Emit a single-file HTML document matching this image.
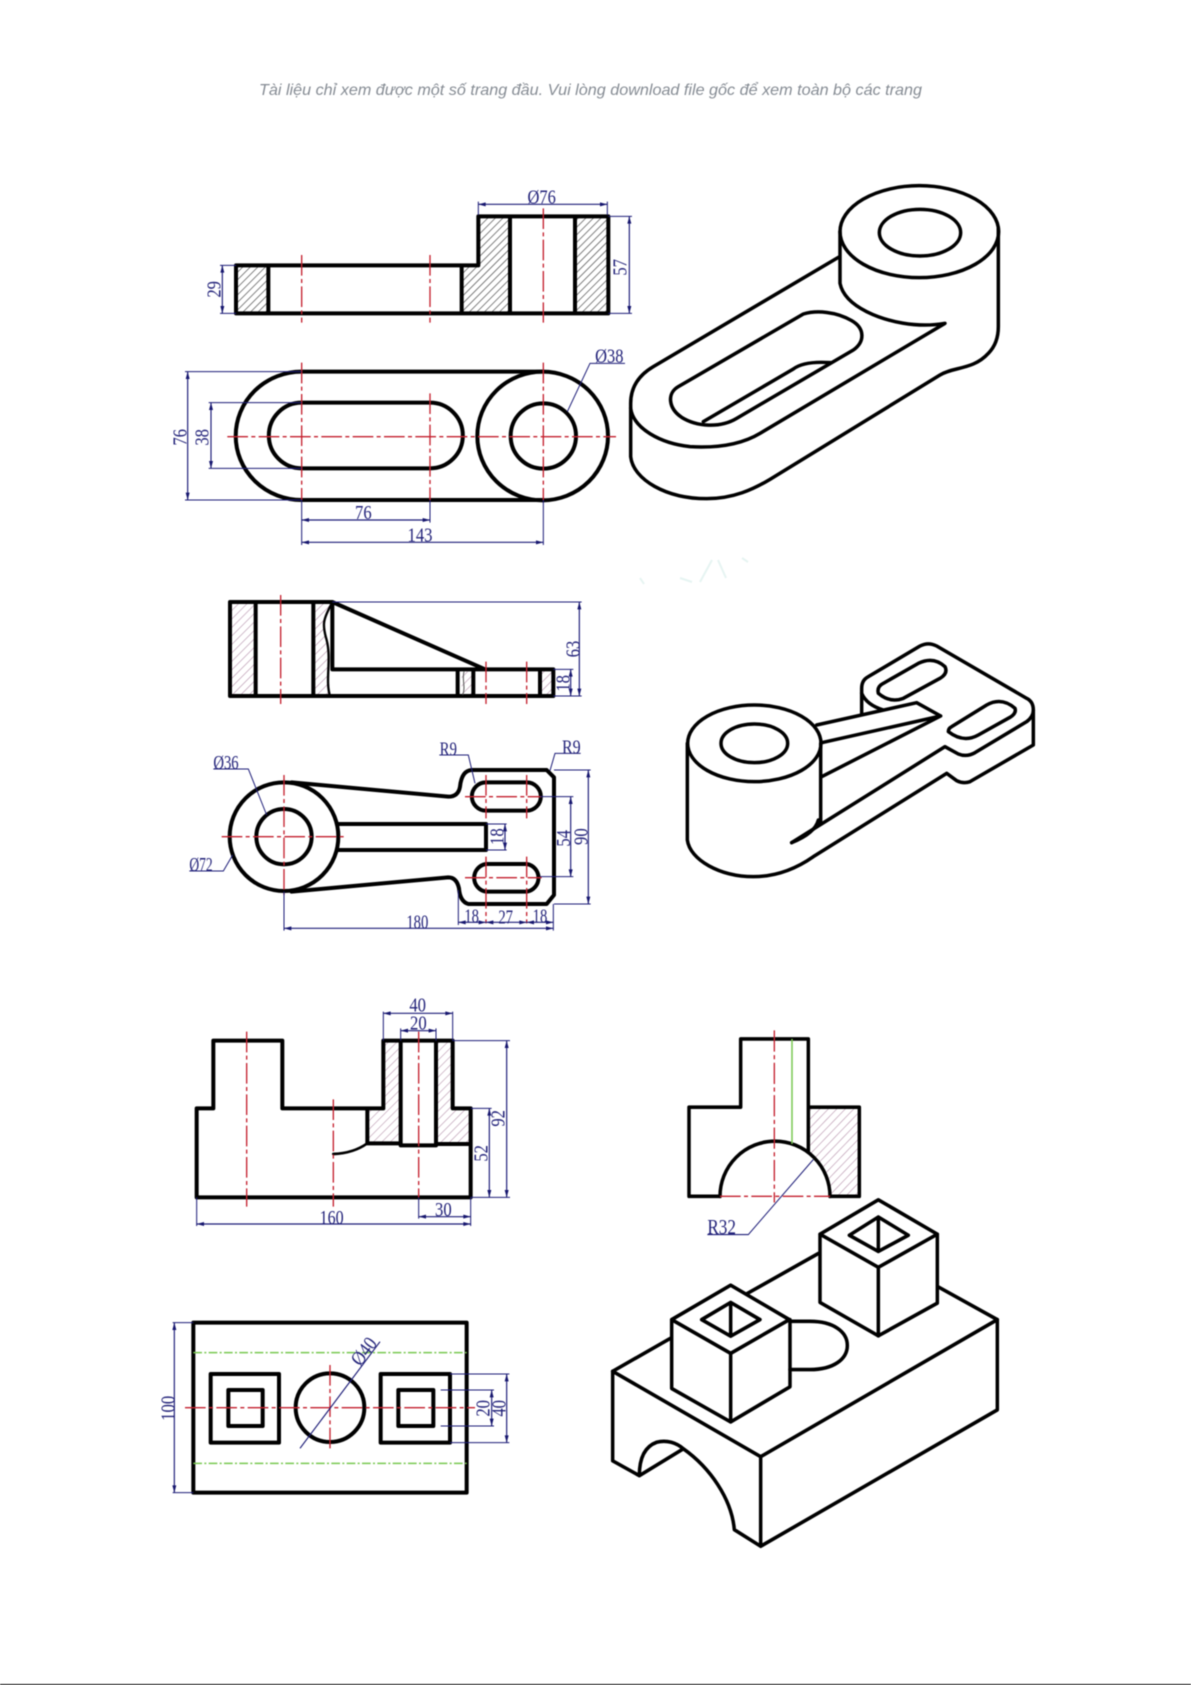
<!DOCTYPE html>
<html><head><meta charset="utf-8"><style>
html,body{margin:0;padding:0;background:#fff;width:1191px;height:1685px;overflow:hidden}
svg{display:block;filter:blur(.4px)}
.t{fill:none;stroke:#000;stroke-width:12;stroke-linejoin:round;stroke-linecap:round}
.i{fill:none;stroke:#000;stroke-width:10.5;stroke-linejoin:round;stroke-linecap:round}
.r{fill:none;stroke:#c4202e;stroke-width:4;stroke-dasharray:62 10 12 10}
.g{fill:none;stroke:#78c850;stroke-width:4.5;stroke-dasharray:26 7 6 7}
.d{fill:none;stroke:#1c1c78;stroke-width:3.5;marker-start:url(#a);marker-end:url(#a)}
.e{fill:none;stroke:#1c1c78;stroke-width:3}
text{font-family:"Liberation Serif",serif}
.x{fill:#23237a;font-size:60px;text-anchor:middle;dominant-baseline:central}
</style></head><body>
<svg width="1191" height="1685" viewBox="0 0 1191 1685" xmlns="http://www.w3.org/2000/svg">
<defs>
<marker id="a" markerUnits="userSpaceOnUse" orient="auto-start-reverse" markerWidth="1" markerHeight="1" refX="0" refY="0" overflow="visible"><path d="M0 0L-22 -6L-22 6Z" fill="#16166e"/></marker>
<pattern id="hd" patternUnits="userSpaceOnUse" width="16" height="16" patternTransform="rotate(45)"><path d="M0 0V16" stroke="#444" stroke-width="4"/></pattern>
<pattern id="hp" patternUnits="userSpaceOnUse" width="18" height="18" patternTransform="rotate(45)"><path d="M0 0V18" stroke="#b48fa9" stroke-width="3.5"/></pattern>
</defs>
<rect width="1191" height="1685" fill="#fff"/>
<text x="259" y="95" textLength="663" lengthAdjust="spacingAndGlyphs" style='font-family:"Liberation Sans",sans-serif;font-style:italic;font-size:16px;fill:#868c94'>Tài liệu chỉ xem được một số trang đầu. Vui lòng download file gốc để xem toàn bộ các trang</text>
<path d="M640 578L644 584M680 578L692 582M700 582L712 560M718 560L726 578M742 558L748 562" fill="none" stroke="#e6f4f2" stroke-width="2"/>
<rect x="0" y="1684" width="1191" height="1" fill="#000"/>

<!-- Section 1 -->
<g transform="translate(150 50) scale(.33333)">
<path d="M258 646H355V790H258ZM935 790V646H985V499H1080V790ZM1275 499H1375V790H1275Z" fill="url(#hd)"/>
<path class="t" d="M258 646H985V499H1375V790H258ZM355 646V790M935 646V790M1080 499V790M1275 499V790"/>
<path class="r" d="M455 615V818M840 615V818M1180 475V818"/>
<path class="e" d="M985 455V495M1372 455V495M1375 499H1446M1375 790H1446M258 646H210M258 790H210"/>
<path class="d" d="M985 463H1372"/>
<path class="d" d="M1438 499V790"/>
<path class="d" d="M217 646V790"/>
<text class="x" x="1175" y="443" textLength="85" lengthAdjust="spacingAndGlyphs">Ø76</text>
<text class="x" transform="rotate(-90 1412 652)" x="1412" y="652" textLength="50" lengthAdjust="spacingAndGlyphs">57</text>
<text class="x" transform="rotate(-90 193 718)" x="193" y="718" textLength="50" lengthAdjust="spacingAndGlyphs">29</text>
<path class="t" d="M455 965H1180M455 1350H1180M455 965A198 192.5 0 0 0 455 1350"/>
<ellipse class="t" cx="1178" cy="1158" rx="196" ry="193"/>
<circle class="t" cx="1180" cy="1158" r="98"/>
<path class="t" d="M455 1058H840A98 98 0 0 1 840 1255H455A98 98 0 0 1 455 1058Z"/>
<path class="r" d="M232 1160H1398M455 938V1350M840 1030V1350M1180 938V1350"/>
<path class="e" d="M105 965H455M105 1350H455M176 1058H455M176 1255H455M455 1350V1485M840 1350V1418M1180 1350V1485"/>
<path class="d" d="M113 965V1350"/>
<path class="d" d="M183 1058V1255"/>
<path class="d" d="M455 1410H840"/>
<path class="d" d="M455 1477H1180"/>
<path class="e" d="M1252 1085L1320 940H1425"/>
<text class="x" transform="rotate(-90 92 1162)" x="92" y="1162" textLength="50" lengthAdjust="spacingAndGlyphs">76</text>
<text class="x" transform="rotate(-90 157 1162)" x="157" y="1162" textLength="50" lengthAdjust="spacingAndGlyphs">38</text>
<text class="x" x="640" y="1389" textLength="50" lengthAdjust="spacingAndGlyphs">76</text>
<text class="x" x="810" y="1456" textLength="75" lengthAdjust="spacingAndGlyphs">143</text>
<text class="x" x="1378" y="920" textLength="85" lengthAdjust="spacingAndGlyphs">Ø38</text>
</g>
<g transform="translate(620 170) scale(.33333)">
<ellipse class="i" cx="898" cy="185" rx="238" ry="138"/>
<ellipse class="i" cx="900" cy="188" rx="122" ry="70"/>
<path class="i" d="M655 262L100 590Q32 630 32 700V860C40 930 140 986 260 986C340 986 400 958 450 928L960 615C1000 590 1060 600 1105 550Q1135 520 1135 470V175"/>
<path class="i" d="M660 185V340Q670 390 740 425C800 455 890 475 975 460L420 790C370 820 300 835 210 830C120 820 40 775 32 715"/>
<path class="i" d="M550 432L175 650C140 670 145 715 185 742C230 770 300 775 350 745L700 540C735 515 735 475 695 452C650 425 590 420 550 432Z"/>
<path class="i" d="M250 755L520 597C545 578 590 575 632 578"/>
</g>

<!-- Section 2 -->
<g transform="translate(160 580) scale(.33333)">
<path d="M210 66H287V348H210ZM460 66H517C490 120 485 130 500 180C515 240 495 300 510 348H460ZM905 275H940V348H905ZM1140 268H1180V348H1140Z" fill="url(#hp)"/>
<path class="t" d="M210 66H517L975 268M517 66V268H1180V348H210V66M287 66V348M460 66V348M893 268V348M940 268V348M1140 268V348"/>
<path fill="none" stroke="#000" stroke-width="7" d="M517 66C490 120 485 130 500 180C515 240 495 300 510 348"/>
<path fill="none" stroke="#555" stroke-width="3" d="M912 275C905 300 918 320 908 345"/>
<path class="r" d="M362 45V372M978 245V372M1100 245V372"/>
<path class="e" d="M517 66H1265M1180 268H1240M1180 348H1265"/>
<path class="d" d="M1258 66V348"/>
<path class="d" d="M1232 268V348"/>
<text class="x" transform="rotate(-90 1240 207)" x="1240" y="207" textLength="50" lengthAdjust="spacingAndGlyphs">63</text>
<text class="x" transform="rotate(-90 1210 310)" x="1210" y="310" textLength="50" lengthAdjust="spacingAndGlyphs">18</text>
<circle class="t" cx="372" cy="770" r="163"/>
<circle class="t" cx="372" cy="770" r="83"/>
<path class="t" d="M395 607L865 650Q895 650 900 620Q905 572 935 570H1160L1182 592V945L1160 972H925Q900 965 897 925Q890 892 865 892L395 935"/>
<path class="t" d="M535 732H978V810H535"/>
<path class="t" d="M978 607H1100A42 42 0 0 1 1100 692H978A42 42 0 0 1 978 607Z"/>
<path class="t" d="M978 852H1100A42 42 0 0 1 1100 935H978A42 42 0 0 1 978 852Z"/>
<path class="r" d="M185 770H558M372 585V945M915 650H1145M915 893H1145M978 585V715M1100 585V715M978 830V1030M1100 830V1030"/>
<path class="e" d="M978 732H1040M978 810H1040M1140 650H1240M1140 890H1240M1182 570H1292M1182 972H1292M372 935V1052M1180 972V1052M895 930V1035"/>
<path class="d" d="M1035 732V810"/>
<path class="d" d="M1232 650V890"/>
<path class="d" d="M1285 570V972"/>
<path class="d" d="M372 1045H1180"/>
<path class="d" d="M895 1027H978"/>
<path class="d" d="M978 1027H1100"/>
<path class="d" d="M1100 1027H1180"/>
<text class="x" transform="rotate(-90 1013 770)" x="1013" y="770" textLength="50" lengthAdjust="spacingAndGlyphs">18</text>
<text class="x" transform="rotate(-90 1212 775)" x="1212" y="775" textLength="50" lengthAdjust="spacingAndGlyphs">54</text>
<text class="x" transform="rotate(-90 1265 770)" x="1265" y="770" textLength="50" lengthAdjust="spacingAndGlyphs">90</text>
<text class="x" x="772" y="1027" textLength="66" lengthAdjust="spacingAndGlyphs">180</text>
<text class="x" x="935" y="1010" textLength="44" lengthAdjust="spacingAndGlyphs">18</text>
<text class="x" x="1037" y="1012" textLength="44" lengthAdjust="spacingAndGlyphs">27</text>
<text class="x" x="1140" y="1010" textLength="44" lengthAdjust="spacingAndGlyphs">18</text>
<path class="e" d="M160 567H265L320 705M88 873H190L218 825M838 525H925L945 610M1262 520H1185L1170 572"/>
<text class="x" x="198" y="549" textLength="76" lengthAdjust="spacingAndGlyphs">Ø36</text>
<text class="x" x="123" y="855" textLength="70" lengthAdjust="spacingAndGlyphs">Ø72</text>
<text class="x" x="865" y="509" textLength="52" lengthAdjust="spacingAndGlyphs">R9</text>
<text class="x" x="1234" y="503" textLength="56" lengthAdjust="spacingAndGlyphs">R9</text>
</g>
<g transform="translate(670 630) scale(.33333)">
<ellipse class="i" cx="253" cy="340" rx="200" ry="115"/>
<ellipse class="i" cx="253" cy="340" rx="100" ry="58"/>
<path class="i" d="M52 340V630C60 690 150 740 250 740C320 740 380 715 430 680L830 430L860 452Q880 462 900 455L1090 345V240Q1090 215 1070 205L800 48Q775 35 750 48L595 140Q575 150 575 175V250"/>
<path class="i" d="M365 638L825 350L865 372Q890 382 915 368L1070 275Q1090 260 1090 240"/>
<path class="i" d="M575 190Q590 225 640 240M440 285L740 218L812 258L455 338M812 258L455 440M452 340V580M445 570Q435 610 365 638"/>
<path class="i" d="M640 160L745 100Q790 78 825 110Q835 130 810 145L700 205Q660 220 625 190Q620 170 640 160Z"/>
<path class="i" d="M845 290L950 225Q995 200 1035 235Q1040 250 1020 262L925 315Q880 340 835 305Q835 295 845 290Z"/>
</g>

<!-- Section 3 -->
<g transform="translate(160 990) scale(.33333)">
<path d="M622 355H670V152H722V460H622ZM828 152H878V355H932V462H828Z" fill="url(#hp)"/>
<path class="t" d="M110 622V355H160V152H367V355H670V152H878V355H932V622ZM722 152V466H828V152M622 355V460H722M828 462H932"/>
<path class="t" style="stroke-width:8" d="M622 460Q580 490 520 492"/>
<path class="r" d="M260 125V650M520 328V650M776 125V622"/>
<path class="e" d="M670 65V152M878 65V152M722 115V152M828 115V152M878 152H1050M932 355H995M932 622H1050M110 622V708M932 622V708M776 622V686"/>
<path class="d" d="M670 70H878"/>
<path class="d" d="M722 122H828"/>
<path class="d" d="M1040 152V622"/>
<path class="d" d="M988 355V622"/>
<path class="d" d="M776 680H932"/>
<path class="d" d="M110 702H932"/>
<text class="x" x="773" y="47" textLength="50" lengthAdjust="spacingAndGlyphs">40</text>
<text class="x" x="775" y="100" textLength="50" lengthAdjust="spacingAndGlyphs">20</text>
<text class="x" transform="rotate(-90 1015 385)" x="1015" y="385" textLength="50" lengthAdjust="spacingAndGlyphs">92</text>
<text class="x" transform="rotate(-90 965 490)" x="965" y="490" textLength="50" lengthAdjust="spacingAndGlyphs">52</text>
<text class="x" x="850" y="660" textLength="50" lengthAdjust="spacingAndGlyphs">30</text>
<text class="x" x="515" y="684" textLength="72" lengthAdjust="spacingAndGlyphs">160</text>
</g>
<g transform="translate(150 1300) scale(.33333)">
<path class="t" d="M130 68H950V578H130Z"/>
<path class="g" d="M130 158H950M130 490H950"/>
<rect class="t" x="182" y="222" width="205" height="206"/>
<rect class="t" x="235" y="270" width="103" height="108"/>
<rect class="t" x="692" y="222" width="208" height="206"/>
<rect class="t" x="745" y="270" width="105" height="108"/>
<circle class="t" cx="540" cy="323" r="103"/>
<path class="r" d="M105 323H975M540 195V452"/>
<path fill="none" stroke="#1c1c78" stroke-width="3.5" d="M450 445L690 125"/>
<path class="e" d="M68 68H130M68 578H130M900 222H1078M900 428H1078M872 270H1032M872 378H1032"/>
<path class="d" d="M73 68V578"/>
<path class="d" d="M1070 222V428"/>
<path class="d" d="M1025 270V378"/>
<text class="x" transform="rotate(-90 55 325)" x="55" y="325" textLength="75" lengthAdjust="spacingAndGlyphs">100</text>
<text class="x" transform="rotate(-90 1048 325)" x="1048" y="325" textLength="50" lengthAdjust="spacingAndGlyphs">40</text>
<text class="x" transform="rotate(-90 1000 325)" x="1000" y="325" textLength="50" lengthAdjust="spacingAndGlyphs">20</text>
<text class="x" transform="rotate(-53 643 155)" x="643" y="155" textLength="88" lengthAdjust="spacingAndGlyphs">Ø40</text>
</g>
<g transform="translate(600 1020) scale(.33333 .3444)">
<path d="M625 253H778V512H690A165 160 0 0 0 625 380Z" fill="url(#hp)"/>
<path class="i" d="M360 512H267V253H422V55H625V380M625 253H778V512H690"/>
<path class="i" d="M360 512A165 160 0 0 1 690 512"/>
<path class="r" d="M523 30V530M360 512H690"/>
<path fill="none" stroke="#78c850" stroke-width="4.5" d="M576 55V360"/>
<path class="e" d="M640 405L445 623H322"/>
<text class="x" x="365" y="603" textLength="86" lengthAdjust="spacingAndGlyphs">R32</text>
<path class="i" d="M38 1020L482 1268L1192 870V1132L482 1528V1268M38 1020V1280L118 1323C118 1280 130 1240 170 1226C200 1218 230 1228 250 1245C330 1300 395 1390 403 1480L482 1528M118 1323L250 1245"/>
<path class="i" d="M38 1020L210 925M440 795L655 678M1015 775L1192 870"/>
<path class="i" d="M392 770L568 870L392 968L215 870ZM215 870V1070L392 1167L570 1065V870M392 968V1167"/>
<path class="i" d="M392 820L480 870L392 918L305 870ZM392 820V918"/>
<path class="i" d="M835 522L1012 622L835 718L660 622ZM660 622V820L835 917L1012 822V622M835 718V917"/>
<path class="i" d="M835 572L925 625L835 672L748 625ZM835 572V672"/>
<path class="i" d="M570 875H630C700 875 742 905 742 945C742 985 700 1015 630 1015H570"/>
</g>
</svg>
</body></html>
